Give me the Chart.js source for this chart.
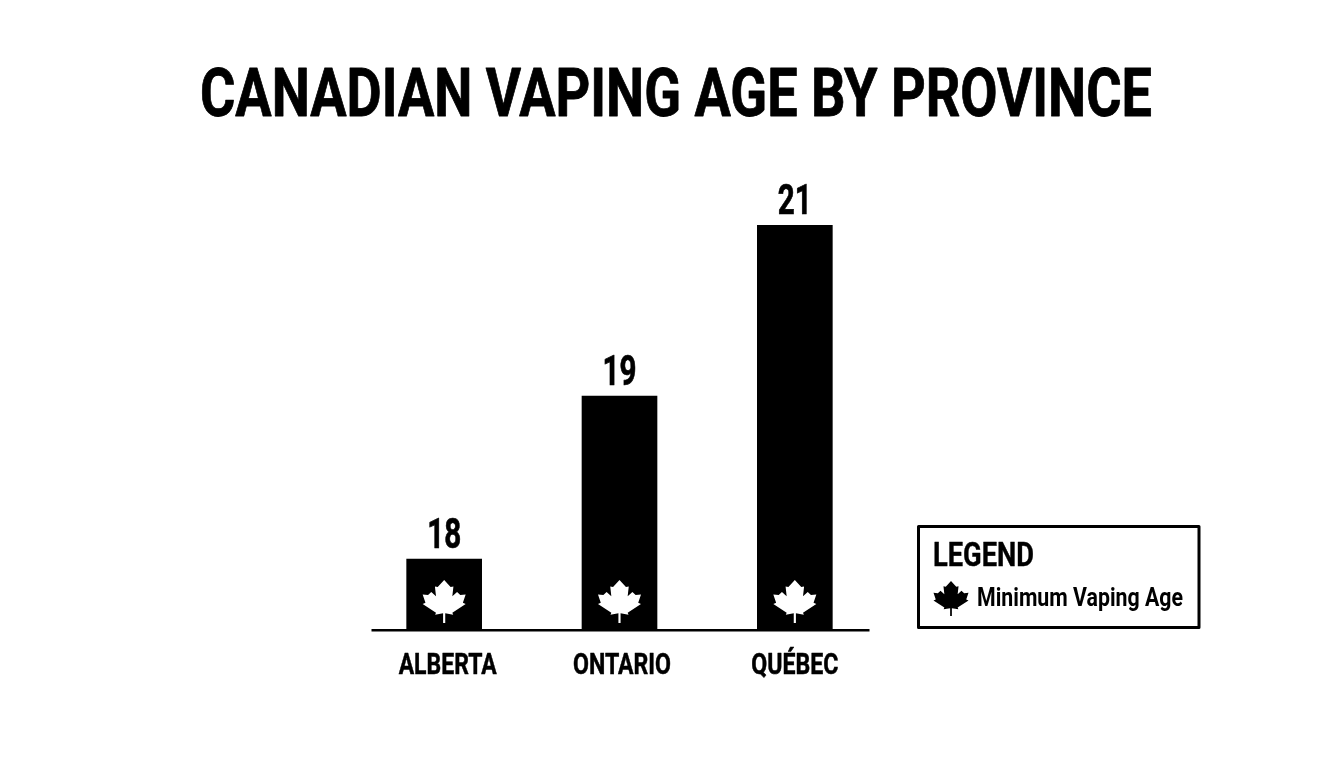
<!DOCTYPE html>
<html><head><meta charset="utf-8">
<style>html,body{margin:0;padding:0;background:#fff}canvas{display:block}</style>
<script src="https://cdn.jsdelivr.net/npm/chart.js@4/dist/chart.umd.min.js"></script>
</head><body><canvas id="c" width="1344" height="768"></canvas>
<script>
const titleText = 'CANADIAN VAPING AGE BY PROVINCE';
const legendTitle = 'LEGEND';
const categories = ['ALBERTA', 'ONTARIO', 'QUÉBEC'];
const seriesName = 'Minimum Vaping Age';
const ages = [18, 19, 21];
// The reference's bars are not to a linear scale: value -> share of axis height.
const axisValues = [17, 18, 19, 21];
const axisShares = [0, 0.1753, 0.5778, 1];
const FONT = 'Roboto,sans-serif';

class ReferenceScale extends Chart.LinearScale {
  getPixelForValue(v) {
    let i = 0;
    while (i < axisValues.length - 2 && v > axisValues[i + 1]) i++;
    const t = (v - axisValues[i]) / (axisValues[i + 1] - axisValues[i]);
    return this.getPixelForDecimal(axisShares[i] + t * (axisShares[i + 1] - axisShares[i]));
  }
}
ReferenceScale.id = 'reference';
ReferenceScale.defaults = Chart.LinearScale.defaults;
Chart.register(ReferenceScale);

// right half of a maple leaf, unit coordinates (x: 0..1, y: -1..1)
const leafHalf = [[0,-1],[.3,-.67],[.43,-.7],[.38,-.24],[.6,-.44],[.75,-.3],[1,-.33],[.87,.06],[1,.12],[.38,.52],[.42,.62],[.05,.55],[.05,1]];
function drawLeaf(ctx, cx, cy, r, color) {
  ctx.save();
  ctx.fillStyle = color;
  ctx.beginPath();
  leafHalf.forEach(([x, y], i) => { const px = cx + x * r, py = cy + y * r; i ? ctx.lineTo(px, py) : ctx.moveTo(px, py); });
  [...leafHalf].reverse().forEach(([x, y]) => ctx.lineTo(cx - x * r, cy + y * r));
  ctx.closePath();
  ctx.fill();
  ctx.restore();
}

const tickWidths = [98, 98, 87];
const tickNudge = [3.5, 2.5, 0];

// bold text thickened with a hairline stroke, as the reference is heavier than Roboto Bold
function heavyText(ctx, text, x, y, w, weight) {
  ctx.fillText(text, x, y, w);
  ctx.lineWidth = weight;
  ctx.strokeStyle = '#000';
  ctx.strokeText(text, x, y, w);
}

const decor = {
  id: 'decor',
  afterDatasetsDraw(chart) {
    const { ctx, chartArea, scales } = chart;
    const meta = chart.getDatasetMeta(0);
    ctx.save();
    ctx.fillStyle = '#000';
    ctx.textBaseline = 'alphabetic';
    ctx.lineJoin = 'round';
    // title
    ctx.textAlign = 'center';
    ctx.font = 'bold 67px ' + FONT;
    heavyText(ctx, titleText, 676, 116, 952, 0.8);
    // baseline
    ctx.fillRect(chartArea.left + 15, chartArea.bottom - 1, 498, 2.5);
    // category labels
    ctx.font = 'bold 29px ' + FONT;
    categories.forEach((c, i) => {
      heavyText(ctx, c, scales.x.getPixelForValue(i) + tickNudge[i], 674, tickWidths[i], 0.5);
    });
    // value labels + leaves
    ctx.font = 'bold 43px ' + FONT;
    meta.data.forEach((bar, i) => {
      ctx.fillStyle = '#000';
      heavyText(ctx, String(ages[i]), bar.x, bar.y - 11, 34, 0.7);
      drawLeaf(ctx, bar.x, chartArea.bottom - 28.5, 21.5, '#fff');
    });
    // legend box
    ctx.strokeStyle = '#000';
    ctx.lineWidth = 3;
    ctx.strokeRect(918.5, 526.5, 280.5, 101);
    ctx.textAlign = 'left';
    ctx.font = 'bold 33px ' + FONT;
    ctx.fillStyle = '#000';
    heavyText(ctx, legendTitle, 933, 566, 101, 0.4);
    drawLeaf(ctx, 951, 598.5, 17.5, '#000');
    ctx.font = 'bold 25px ' + FONT;
    ctx.fillText(seriesName, 977, 606, 206);
    ctx.restore();
  }
};

new Chart(document.getElementById('c'), {
  type: 'bar',
  data: { labels: categories, datasets: [{ label: seriesName, data: ages, backgroundColor: '#000', borderWidth: 0, barThickness: 75 }] },
  options: {
    responsive: false,
    animation: false,
    layout: { padding: { left: 356.5, right: 461.5, top: 225, bottom: 130 } },
    plugins: { legend: { display: false }, tooltip: { enabled: false }, title: { display: false } },
    scales: {
      x: { grid: { display: false }, border: { display: false }, ticks: { display: false } },
      y: { type: 'reference', display: false, min: 17, max: 21 }
    }
  },
  plugins: [decor]
});
</script></body></html>
